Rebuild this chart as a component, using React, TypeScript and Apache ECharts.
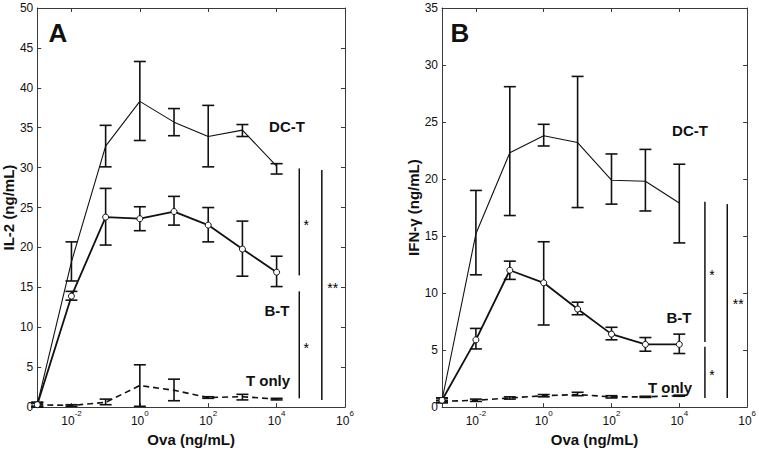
import React, { useEffect, useRef } from "react";
import * as echarts from "echarts";

// Ova concentrations (ng/mL); the first point is the no-antigen baseline drawn at 10^-3
const concentrations = [0.001, 0.01, 0.1, 1, 10, 100, 1000, 10000];
const xTickExponents = [-2, 0, 2, 4, 6];
const yTicksA = [0, 5, 10, 15, 20, 25, 30, 35, 40, 45, 50];
const yTicksB = [0, 5, 10, 15, 20, 25, 30, 35];

// Panel A: IL-2 (ng/mL)
const il2DcT = [0.3, 18.2, 32.7, 38.3, 35.7, 33.9, 34.7, 30.2];
const il2DcTLow = [0.0, 15.8, 30.1, 33.4, 34.0, 30.1, 33.9, 29.2];
const il2DcTHigh = [0.6, 20.7, 35.3, 43.3, 37.4, 37.8, 35.4, 30.5];
const il2BT = [0.3, 13.9, 23.8, 23.6, 24.5, 22.8, 19.8, 16.9];
const il2BTLow = [0.0, 13.4, 20.3, 22.1, 22.8, 20.7, 16.4, 15.1];
const il2BTHigh = [0.6, 14.5, 27.4, 25.1, 26.4, 25.0, 23.3, 18.9];
const il2T = [0.3, 0.2, 0.6, 2.7, 2.1, 1.2, 1.3, 1.0];
const il2TLow = [0.1, 0.1, 0.3, 0.1, 0.8, 1.1, 0.9, 0.9];
const il2THigh = [0.5, 0.3, 1.0, 5.3, 3.5, 1.3, 1.6, 1.1];

// Panel B: IFN-γ (ng/mL)
const ifnDcT = [0.6, 15.2, 22.3, 23.8, 23.2, 19.9, 19.8, 17.9];
const ifnDcTLow = [0.4, 11.6, 16.8, 22.9, 17.5, 17.8, 17.2, 14.4];
const ifnDcTHigh = [0.8, 19.0, 28.1, 24.8, 29.0, 22.2, 22.6, 21.3];
const ifnBT = [0.6, 5.9, 12.0, 10.9, 8.6, 6.4, 5.5, 5.5];
const ifnBTLow = [0.4, 5.1, 11.2, 7.2, 8.1, 5.9, 4.9, 4.7];
const ifnBTHigh = [0.8, 6.9, 12.8, 14.5, 9.2, 7.0, 6.1, 6.4];
const ifnT = [0.5, 0.6, 0.8, 1.0, 1.1, 0.9, 0.9, 1.0];
const ifnTLow = [0.4, 0.5, 0.7, 0.9, 1.0, 0.8, 0.85, 0.95];
const ifnTHigh = [0.6, 0.7, 0.9, 1.1, 1.3, 1.0, 0.95, 1.05];

// Significance brackets (x as concentration, vertical extent in y units)
const sigAX = [46000, 46000, 210000];
const sigAFrom = [16.5, 1.1, 0.9];
const sigATo = [29.9, 14.5, 29.7];
const sigALabels = ["*", "*", "**"];
const sigBX = [57000, 57000, 260000];
const sigBFrom = [5.7, 0.8, 0.8];
const sigBTo = [18.0, 5.3, 17.8];
const sigBLabels = ["*", "*", "**"];

const FONT = "'Liberation Sans', Arial, Helvetica, sans-serif";
const INK = "#111";
const AXIS = "#3a3a3a";

const lx = (c: number) => Math.log10(c);

function pts(ys: number[]) {
  return concentrations.map((c, i) => [lx(c), ys[i]]);
}
function bars(lo: number[], hi: number[]) {
  return concentrations.map((c, i) => [lx(c), lo[i], hi[i]]);
}

function errorSeries(name: string, data: number[][], xi: number) {
  return {
    type: "custom",
    name,
    xAxisIndex: xi,
    yAxisIndex: xi,
    silent: true,
    z: 3,
    itemStyle: { color: INK },
    data,
    renderItem: (params: any, api: any) => {
      const x = api.value(0);
      const pLo = api.coord([x, api.value(1)]);
      const pHi = api.coord([x, api.value(2)]);
      const w = 6;
      const st = { stroke: INK, lineWidth: 1.6 };
      return {
        type: "group",
        children: [
          { type: "line", shape: { x1: pLo[0], y1: pLo[1], x2: pHi[0], y2: pHi[1] }, style: st },
          { type: "line", shape: { x1: pLo[0] - w, y1: pLo[1], x2: pLo[0] + w, y2: pLo[1] }, style: st },
          { type: "line", shape: { x1: pHi[0] - w, y1: pHi[1], x2: pHi[0] + w, y2: pHi[1] }, style: st },
        ],
      };
    },
  };
}

function sigSeries(xs: number[], from: number[], to: number[], labels: string[], xi: number) {
  return {
    type: "custom",
    xAxisIndex: xi,
    yAxisIndex: xi,
    silent: true,
    z: 3,
    itemStyle: { color: INK },
    data: xs.map((x, i) => [lx(x), from[i], to[i], i]),
    renderItem: (params: any, api: any) => {
      const x = api.value(0);
      const p1 = api.coord([x, api.value(1)]);
      const p2 = api.coord([x, api.value(2)]);
      const lab = labels[api.value(3)];
      const off = lab.length > 1 ? 11 : 7;
      return {
        type: "group",
        children: [
          { type: "line", shape: { x1: p1[0], y1: p1[1], x2: p2[0], y2: p2[1] }, style: { stroke: INK, lineWidth: 1.5 } },
          {
            type: "text",
            x: p1[0] + off,
            y: (p1[1] + p2[1]) / 2 + 3,
            style: { text: lab, fill: "#000", font: `14px ${FONT}`, align: "center", verticalAlign: "middle" },
          },
        ],
      };
    },
  };
}

function lineSeries(name: string, ys: number[], xi: number, kind: "dc" | "bt" | "t") {
  const base: any = {
    type: "line",
    name,
    xAxisIndex: xi,
    yAxisIndex: xi,
    data: pts(ys),
    z: 4,
    silent: true,
  };
  if (kind === "dc") {
    base.showSymbol = false;
    base.symbol = "none";
    base.lineStyle = { color: INK, width: 1.1 };
  } else if (kind === "bt") {
    base.symbol = "circle";
    base.symbolSize = 6;
    base.itemStyle = { color: "#fff", borderColor: INK, borderWidth: 1 };
    base.lineStyle = { color: INK, width: 1.8 };
  } else {
    base.showSymbol = false;
    base.symbol = "none";
    base.lineStyle = { color: INK, width: 1.6, type: [6, 4] };
  }
  return base;
}

function xAxes(gi: number) {
  const common = {
    type: "value",
    gridIndex: gi,
    min: -3,
    max: 6,
    splitLine: { show: false },
    axisLine: { show: true, onZero: false, lineStyle: { color: AXIS, width: 1 } },
    axisTick: { show: true, inside: true, length: 4, customValues: xTickExponents, lineStyle: { color: AXIS } },
  };
  return [
    {
      ...common,
      position: "bottom",
      name: "Ova (ng/mL)",
      nameLocation: "middle",
      nameGap: 20,
      nameTextStyle: { fontFamily: FONT, fontSize: 15, fontWeight: "bold", color: INK },
      axisLabel: {
        show: true,
        margin: 2,
        customValues: xTickExponents,
        formatter: (v: number) => `{b|10}{s|${v}}`,
        rich: {
          b: { fontFamily: FONT, fontSize: 12, color: INK, lineHeight: 18, verticalAlign: "bottom" },
          s: { fontFamily: FONT, fontSize: 8, color: INK, lineHeight: 10, verticalAlign: "top" },
        },
      },
    },
    { ...common, position: "top", axisLabel: { show: false } },
  ];
}

function yAxes(gi: number, max: number, ticks: number[], name: string, gap: number) {
  const common = {
    type: "value",
    gridIndex: gi,
    min: 0,
    max,
    interval: 5,
    splitLine: { show: false },
    axisLine: { show: true, onZero: false, lineStyle: { color: AXIS, width: 1 } },
    axisTick: { show: true, inside: true, length: 4, lineStyle: { color: AXIS } },
  };
  return [
    {
      ...common,
      position: "left",
      name,
      nameLocation: "middle",
      nameGap: gap,
      nameTextStyle: { fontFamily: FONT, fontSize: 15, fontWeight: "bold", color: INK },
      axisLabel: { show: true, margin: 4, fontFamily: FONT, fontSize: 12, color: INK, customValues: ticks },
    },
    { ...common, position: "right", axisLabel: { show: false } },
  ];
}

function txt(x: number, y: number, text: string, size: number) {
  return {
    type: "text",
    x,
    y,
    silent: true,
    style: { text, fill: INK, font: `bold ${size}px ${FONT}`, align: "center", verticalAlign: "middle" },
  };
}

export default function App() {
  const ref = useRef<HTMLDivElement>(null);
  useEffect(() => {
    if (!ref.current) return;
    const chart = echarts.init(ref.current, undefined, { renderer: "svg" });
    const option: any = {
      animation: false,
      backgroundColor: "#fff",
      grid: [
        { left: 37, top: 8, width: 308, height: 403 },
        { left: 442, top: 8, width: 306, height: 403 },
      ],
      xAxis: [...xAxes(0), ...xAxes(1)],
      yAxis: [
        ...yAxes(0, 50, yTicksA, "IL-2 (ng/mL)", 13),
        ...yAxes(1, 35, yTicksB, "IFN-γ (ng/mL)", 16),
      ],
      series: [
        errorSeries("DC-T err A", bars(il2DcTLow, il2DcTHigh), 0),
        errorSeries("B-T err A", bars(il2BTLow, il2BTHigh), 0),
        errorSeries("T err A", bars(il2TLow, il2THigh), 0),
        lineSeries("DC-T", il2DcT, 0, "dc"),
        lineSeries("B-T", il2BT, 0, "bt"),
        lineSeries("T only", il2T, 0, "t"),
        sigSeries(sigAX, sigAFrom, sigATo, sigALabels, 0),
        errorSeries("DC-T err B", bars(ifnDcTLow, ifnDcTHigh), 2),
        errorSeries("B-T err B", bars(ifnBTLow, ifnBTHigh), 2),
        errorSeries("T err B", bars(ifnTLow, ifnTHigh), 2),
        lineSeries("DC-T", ifnDcT, 2, "dc"),
        lineSeries("B-T", ifnBT, 2, "bt"),
        lineSeries("T only", ifnT, 2, "t"),
        sigSeries(sigBX, sigBFrom, sigBTo, sigBLabels, 2),
      ],
      graphic: [
        txt(58, 33, "A", 26),
        txt(287, 126, "DC-T", 15),
        txt(277, 310, "B-T", 15),
        txt(268, 380, "T only", 15),
        txt(460, 33, "B", 26),
        txt(690, 130, "DC-T", 15),
        txt(679, 317, "B-T", 15),
        txt(670, 387, "T only", 15),
      ],
    };
    chart.setOption(option);
    return () => chart.dispose();
  }, []);
  return (
    <div
      ref={ref}
      style={{ position: "fixed", left: 0, top: 0, width: 759, height: 452, background: "#fff" }}
    />
  );
}
